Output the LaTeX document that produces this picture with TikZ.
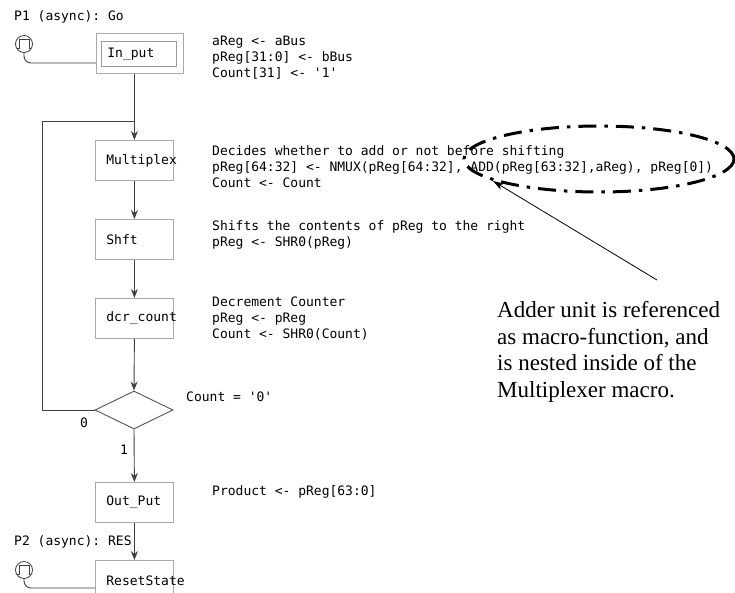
\documentclass[tikz,border=0pt]{standalone}
\usepackage{fontspec}
\setmainfont{Liberation Serif}
\setmonofont{DejaVu Sans Mono}
\usetikzlibrary{shapes.geometric,arrows.meta}
\definecolor{linec}{HTML}{404040}
\definecolor{boxc}{HTML}{AAAAAA}
\definecolor{diac}{HTML}{555555}
\begin{document}
\begin{tikzpicture}[x=1pt,y=-1pt,
  mono/.style={font=\ttfamily\fontsize{13}{16}\selectfont, inner sep=0pt, align=left, anchor=west, text=black},
  wire/.style={draw=linec, line width=0.9pt},
  arr/.style={wire, -{Stealth[length=9pt,width=7pt,inset=3pt]}},
  state/.style={draw=boxc, line width=0.8pt, minimum width=78pt, minimum height=40pt,
    text width=56pt, inner xsep=11pt, inner ysep=0pt, align=left, anchor=north west,
    font=\ttfamily\fontsize{13}{16}\selectfont, text=black},
  startc/.style={circle, draw=linec, line width=0.8pt, minimum size=17pt, inner sep=0pt},
  note/.style={font=\fontsize{23}{26.5}\selectfont, align=left, anchor=west, inner sep=0pt},
  focus/.style={draw=black, line width=3pt, dash pattern=on 18pt off 8pt on 3.5pt off 8pt},
  pointer/.style={draw=black, line width=0.8pt, -{Stealth[length=11pt,width=7pt,inset=3pt]}}
]
\clip (0,0) rectangle (735,592);
\fill[white] (0,0) rectangle (735,592);

% ---- P1 start
\node[mono] (p1lbl) at (14,17) {P1 (async): Go};
\node[startc] (p1c) at (24,44) {};
\draw[linec, line width=0.7pt] (17,48) -- (19,48) -- (19,39) -- (29,39) -- (29,48) -- (31,48);

% ---- states
\node[draw=boxc, line width=0.8pt, minimum width=87pt, minimum height=40pt, inner sep=0pt, anchor=north west] (inpo) at (96,33) {};
\node[state, minimum width=75pt, minimum height=25pt, text width=63pt, inner xsep=6pt, draw=boxc!120] (inp) at (101,41) {In\_put};
\node[state] (mux) at (95,140) {Multiplex};
\node[state] (shft) at (95,219) {Shft};
\node[state] (dcr) at (95,298) {dcr\_count};
\node[diamond, draw=diac, line width=0.9pt, minimum width=78pt, minimum height=38pt, inner sep=0pt] (dia) at (134,410) {};
\node[state] (outp) at (95,482) {Out\_Put};
\node[state] (rst) at (95,560) {ResetState};

% ---- P2 start
\node[mono] (p2lbl) at (14,542) {P2 (async): RES};
\node[startc] (p2c) at (24,570) {};
\draw[linec, line width=0.7pt] (17,574) -- (19,574) -- (19,565) -- (29,565) -- (29,574) -- (31,574);

% ---- connectors
\draw[wire, rounded corners=7pt] (p1c.south) -- (24,63) -- (inpo.west |- 0,63);
\draw[arr] (mux.north |- inpo.south) -- (mux.north);
\coordinate (loopc) at (42,121);
\draw[wire] (dia.west) -| (loopc) -- (mux.north |- loopc);
\draw[arr] (mux.south) -- (shft.north);
\draw[arr] (shft.south) -- (dcr.north);
\draw[arr] (dcr.south) -- (dia.north);
\draw[arr] (dia.south) -- (outp.north);
\draw[arr] (outp.south) -- (rst.north);
\draw[wire, rounded corners=7pt] (p2c.south) -- (24,588) -- (rst.west |- 0,588);

\node[mono] (zero) at (80,423) {0};
\node[mono] (one) at (120,450) {1};
\node[mono] (cond) at (186,397) {Count = '0'};

% ---- action texts
\node[mono] (t1) at (212,58) {aReg <- aBus\\pReg[31:0] <- bBus\\Count[31] <- '1'};
\node[mono] (t2) at (212,167) {Decides whether to add or not before shifting\\pReg[64:32] <- NMUX(pReg[64:32], ADD(pReg[63:32],aReg), pReg[0])\\Count <- Count};
\node[mono] (t3) at (212,235) {Shifts the contents of pReg to the right\\pReg <- SHR0(pReg)};
\node[mono] (t4) at (212,319) {Decrement Counter\\pReg <- pReg\\Count <- SHR0(Count)};
\node[mono] (t5) at (212,492) {Product <- pReg[63:0]};

% ---- annotation
\draw[focus] (599,159) ellipse [x radius=135, y radius=33];
\node[note] (ann) at (497,352) {Adder unit is referenced\\as macro-function, and\\is nested inside of the\\Multiplexer macro.};
\coordinate (tail) at (657,280);
\coordinate (tip) at (493,181);
\draw[pointer] (tail) -- (tip);
\end{tikzpicture}
\end{document}
